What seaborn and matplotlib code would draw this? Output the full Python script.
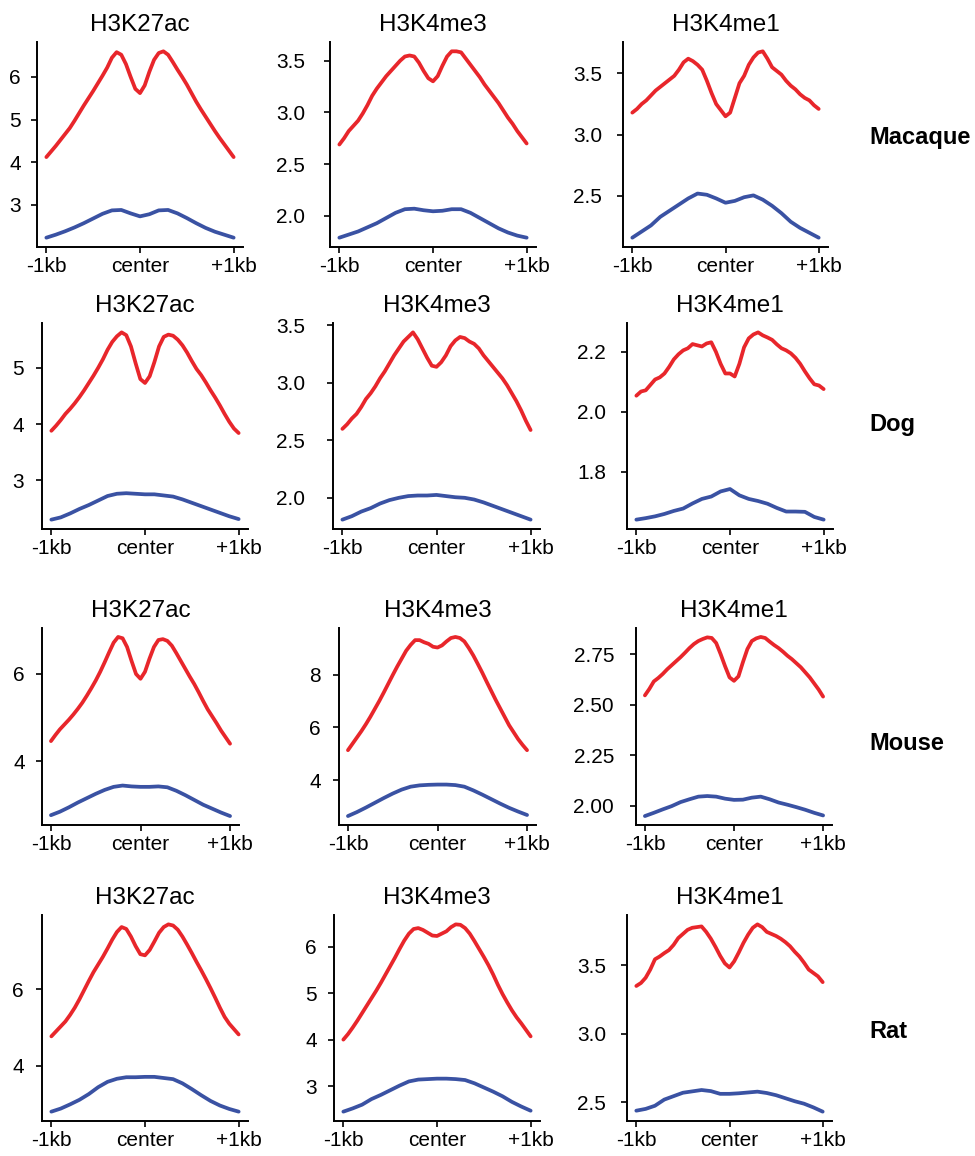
import numpy as np
import matplotlib
matplotlib.use("Agg")
import matplotlib.pyplot as plt
import seaborn as sns

# ---------------------------------------------------------------------------
# Profile values (signal vs. distance to peak summit, -1 kb .. +1 kb)
# "hi" = red profile, "lo" = blue profile
# ---------------------------------------------------------------------------
species = ["Macaque", "Dog", "Mouse", "Rat"]
marks = ["H3K27ac", "H3K4me3", "H3K4me1"]
xtick_labels = ["-1kb", "center", "+1kb"]

mac_k27ac_hi = [4.12, 4.25, 4.38, 4.52, 4.66, 4.80, 4.97, 5.15, 5.33, 5.50, 5.67, 5.85, 6.03, 6.22,
                6.45, 6.58, 6.52, 6.30, 6.00, 5.72, 5.62, 5.80, 6.12, 6.40, 6.56, 6.60, 6.52, 6.35,
                6.17, 6.00, 5.82, 5.62, 5.42, 5.24, 5.07, 4.90, 4.73, 4.57, 4.42, 4.27, 4.12]
mac_k27ac_lo = [2.23, 2.30, 2.38, 2.47, 2.57, 2.68, 2.79, 2.87, 2.88, 2.80, 2.73, 2.78, 2.87, 2.88,
                2.80, 2.69, 2.57, 2.46, 2.37, 2.30, 2.23]
mac_k4me3_hi = [2.69, 2.75, 2.82, 2.87, 2.92, 2.99, 3.07, 3.16, 3.23, 3.29, 3.35, 3.40, 3.45, 3.50,
                3.54, 3.55, 3.54, 3.48, 3.40, 3.33, 3.30, 3.35, 3.45, 3.54, 3.59, 3.59, 3.58, 3.52,
                3.46, 3.40, 3.34, 3.27, 3.21, 3.15, 3.09, 3.02, 2.95, 2.89, 2.82, 2.76, 2.70]
mac_k4me3_lo = [1.79, 1.82, 1.85, 1.89, 1.93, 1.98, 2.03, 2.065, 2.07, 2.055, 2.045, 2.05, 2.065,
                2.065, 2.03, 1.98, 1.93, 1.88, 1.84, 1.81, 1.79]
mac_k4me1_hi = [3.18, 3.21, 3.25, 3.28, 3.32, 3.36, 3.39, 3.42, 3.45, 3.48, 3.53, 3.59, 3.62, 3.60,
                3.57, 3.53, 3.44, 3.34, 3.25, 3.20, 3.15, 3.18, 3.30, 3.42, 3.48, 3.57, 3.63, 3.67,
                3.68, 3.62, 3.55, 3.52, 3.49, 3.44, 3.40, 3.37, 3.33, 3.30, 3.28, 3.24, 3.21]
mac_k4me1_lo = [2.16, 2.21, 2.26, 2.33, 2.38, 2.43, 2.48, 2.52, 2.51, 2.48, 2.445, 2.46, 2.49,
                2.505, 2.47, 2.42, 2.36, 2.29, 2.24, 2.20, 2.16]

dog_k27ac_hi = [3.88, 3.97, 4.07, 4.18, 4.27, 4.37, 4.48, 4.60, 4.73, 4.86, 5.00, 5.15, 5.32, 5.46,
                5.56, 5.63, 5.58, 5.38, 5.08, 4.80, 4.73, 4.85, 5.10, 5.38, 5.55, 5.59, 5.57, 5.50,
                5.40, 5.27, 5.12, 4.98, 4.87, 4.74, 4.60, 4.47, 4.33, 4.18, 4.04, 3.92, 3.84]
dog_k27ac_lo = [2.30, 2.34, 2.41, 2.49, 2.56, 2.64, 2.72, 2.76, 2.77, 2.76, 2.75, 2.75, 2.73, 2.71,
                2.66, 2.60, 2.54, 2.48, 2.42, 2.36, 2.31]
dog_k4me3_hi = [2.60, 2.64, 2.69, 2.73, 2.79, 2.86, 2.91, 2.97, 3.04, 3.10, 3.17, 3.24, 3.30, 3.36,
                3.40, 3.44, 3.38, 3.30, 3.22, 3.15, 3.14, 3.18, 3.24, 3.32, 3.37, 3.40, 3.39, 3.36,
                3.34, 3.30, 3.24, 3.19, 3.14, 3.09, 3.04, 2.98, 2.91, 2.84, 2.76, 2.67, 2.59]
dog_k4me3_lo = [1.81, 1.84, 1.88, 1.91, 1.95, 1.98, 2.00, 2.015, 2.02, 2.02, 2.025, 2.015, 2.005,
                2.00, 1.985, 1.96, 1.93, 1.90, 1.87, 1.84, 1.81]
dog_k4me1_hi = [2.054, 2.068, 2.072, 2.090, 2.108, 2.115, 2.128, 2.150, 2.175, 2.192, 2.205, 2.212,
                2.226, 2.222, 2.218, 2.228, 2.232, 2.200, 2.160, 2.128, 2.128, 2.118, 2.160, 2.215,
                2.245, 2.258, 2.265, 2.255, 2.248, 2.240, 2.225, 2.212, 2.205, 2.195, 2.180, 2.160,
                2.135, 2.112, 2.092, 2.088, 2.076]
dog_k4me1_lo = [1.641, 1.646, 1.652, 1.660, 1.670, 1.678, 1.695, 1.710, 1.718, 1.735, 1.743, 1.722,
                1.710, 1.703, 1.694, 1.680, 1.668, 1.668, 1.667, 1.650, 1.641]

mou_k27ac_hi = [4.46, 4.60, 4.73, 4.84, 4.95, 5.07, 5.20, 5.34, 5.50, 5.67, 5.85, 6.05, 6.27, 6.50,
                6.72, 6.85, 6.82, 6.62, 6.30, 6.00, 5.89, 6.05, 6.35, 6.62, 6.78, 6.80, 6.76, 6.65,
                6.48, 6.30, 6.12, 5.94, 5.77, 5.58, 5.38, 5.19, 5.03, 4.87, 4.70, 4.55, 4.40]
mou_k27ac_lo = [2.76, 2.84, 2.94, 3.05, 3.15, 3.25, 3.34, 3.41, 3.44, 3.42, 3.41, 3.41, 3.42, 3.40,
                3.32, 3.22, 3.11, 3.00, 2.91, 2.82, 2.74]
mou_k4me3_hi = [5.14, 5.38, 5.62, 5.86, 6.12, 6.40, 6.70, 7.00, 7.32, 7.65, 7.98, 8.30, 8.60, 8.90,
                9.12, 9.30, 9.30, 9.22, 9.16, 9.05, 9.02, 9.10, 9.25, 9.38, 9.42, 9.38, 9.25, 9.00,
                8.72, 8.40, 8.07, 7.72, 7.38, 7.04, 6.72, 6.40, 6.08, 5.82, 5.56, 5.34, 5.14]
mou_k4me3_lo = [2.65, 2.80, 2.97, 3.15, 3.33, 3.50, 3.65, 3.76, 3.81, 3.83, 3.84, 3.84, 3.82, 3.76,
                3.62, 3.46, 3.29, 3.12, 2.96, 2.82, 2.69]
mou_k4me1_hi = [2.546, 2.578, 2.615, 2.632, 2.652, 2.675, 2.695, 2.715, 2.735, 2.757, 2.780, 2.800,
                2.815, 2.825, 2.833, 2.830, 2.805, 2.750, 2.690, 2.635, 2.618, 2.640, 2.710, 2.775,
                2.815, 2.828, 2.835, 2.830, 2.812, 2.795, 2.780, 2.762, 2.742, 2.725, 2.705, 2.685,
                2.660, 2.635, 2.605, 2.575, 2.540]
mou_k4me1_lo = [1.949, 1.965, 1.982, 1.998, 2.018, 2.032, 2.045, 2.048, 2.045, 2.035, 2.029, 2.030,
                2.040, 2.045, 2.032, 2.016, 2.005, 1.993, 1.980, 1.965, 1.952]

rat_k27ac_hi = [4.77, 4.90, 5.03, 5.16, 5.33, 5.52, 5.74, 5.98, 6.22, 6.45, 6.65, 6.85, 7.07, 7.30,
                7.50, 7.63, 7.58, 7.38, 7.13, 6.92, 6.89, 7.03, 7.25, 7.48, 7.63, 7.70, 7.67, 7.56,
                7.38, 7.17, 6.95, 6.72, 6.50, 6.27, 6.03, 5.78, 5.52, 5.28, 5.10, 4.96, 4.82]
rat_k27ac_lo = [2.80, 2.88, 2.99, 3.11, 3.26, 3.44, 3.58, 3.66, 3.70, 3.70, 3.71, 3.71, 3.68, 3.65,
                3.54, 3.39, 3.23, 3.08, 2.96, 2.87, 2.80]
rat_k4me3_hi = [4.00, 4.12, 4.26, 4.41, 4.57, 4.73, 4.89, 5.05, 5.22, 5.40, 5.58, 5.76, 5.95, 6.13,
                6.28, 6.38, 6.40, 6.36, 6.30, 6.24, 6.23, 6.28, 6.33, 6.42, 6.48, 6.47, 6.40, 6.28,
                6.12, 5.95, 5.78, 5.60, 5.40, 5.18, 4.98, 4.80, 4.63, 4.48, 4.35, 4.21, 4.07]
rat_k4me3_lo = [2.45, 2.52, 2.60, 2.72, 2.81, 2.91, 3.01, 3.10, 3.14, 3.15, 3.16, 3.16, 3.15, 3.13,
                3.06, 2.97, 2.88, 2.78, 2.66, 2.56, 2.47]
rat_k4me1_hi = [3.350, 3.372, 3.410, 3.470, 3.545, 3.565, 3.590, 3.612, 3.650, 3.700, 3.730, 3.760,
                3.775, 3.780, 3.785, 3.745, 3.695, 3.635, 3.570, 3.515, 3.485, 3.530, 3.595, 3.665,
                3.725, 3.775, 3.800, 3.780, 3.745, 3.730, 3.715, 3.695, 3.670, 3.640, 3.600, 3.565,
                3.520, 3.470, 3.445, 3.420, 3.378]
rat_k4me1_lo = [2.439, 2.452, 2.475, 2.520, 2.545, 2.570, 2.580, 2.590, 2.582, 2.562, 2.562, 2.566,
                2.572, 2.578, 2.568, 2.552, 2.530, 2.508, 2.490, 2.463, 2.432]

# y tick values and their printed labels, one entry per panel (row-major)
ytick_values = [
    [3, 4, 5, 6], [2.0, 2.5, 3.0, 3.5], [2.5, 3.0, 3.5],
    [3, 4, 5], [2.0, 2.5, 3.0, 3.5], [1.8, 2.0, 2.2],
    [4, 6], [4, 6, 8], [2.00, 2.25, 2.50, 2.75],
    [4, 6], [3, 4, 5, 6], [2.5, 3.0, 3.5],
]
ytick_labels = [
    ["3", "4", "5", "6"], ["2.0", "2.5", "3.0", "3.5"], ["2.5", "3.0", "3.5"],
    ["3", "4", "5"], ["2.0", "2.5", "3.0", "3.5"], ["1.8", "2.0", "2.2"],
    ["4", "6"], ["4", "6", "8"], ["2.00", "2.25", "2.50", "2.75"],
    ["4", "6"], ["3", "4", "5", "6"], ["2.5", "3.0", "3.5"],
]

profiles = [
    [(mac_k27ac_hi, mac_k27ac_lo), (mac_k4me3_hi, mac_k4me3_lo), (mac_k4me1_hi, mac_k4me1_lo)],
    [(dog_k27ac_hi, dog_k27ac_lo), (dog_k4me3_hi, dog_k4me3_lo), (dog_k4me1_hi, dog_k4me1_lo)],
    [(mou_k27ac_hi, mou_k27ac_lo), (mou_k4me3_hi, mou_k4me3_lo), (mou_k4me1_hi, mou_k4me1_lo)],
    [(rat_k27ac_hi, rat_k27ac_lo), (rat_k4me3_hi, rat_k4me3_lo), (rat_k4me1_hi, rat_k4me1_lo)],
]

# ---------------------------------------------------------------------------
# Styling / layout
# ---------------------------------------------------------------------------
sns.set_style("ticks")
plt.rcParams["font.family"] = ["Liberation Sans", "DejaVu Sans"]
plt.rcParams["text.color"] = "black"
plt.rcParams["axes.titlecolor"] = "black"

RED = "#E8262B"
BLUE = "#3A52A3"

W, H = 975, 1156
fig = plt.figure(figsize=(W / 100, H / 100), dpi=100)

# axes boxes in pixels: (left, right) per column for each row, and (top, bottom) per row
col_spans = [
    [(37, 243), (330, 536), (623, 828)],
    [(42, 248), (333, 540), (627, 833)],
    [(42, 239), (339, 536), (636, 832)],
    [(42, 248), (334, 540), (627, 832)],
]
row_spans = [(42, 247), (323, 529), (628, 825), (915, 1121)]
# gap between y tick marks and their labels, in pixels
ylabel_gap = [[10, 19, 15], [12, 22, 15], [11, 12, 16], [12, 11, 15]]
label_y = [138, 425, 743, 1032]

for r, sp in enumerate(species):
    top, bot = row_spans[r]
    for c, mark in enumerate(marks):
        left, right = col_spans[r][c]
        ax = fig.add_axes([left / W, 1 - bot / H, (right - left) / W, (bot - top) / H])
        hi, lo = profiles[r][c]
        for vals, col in ((hi, RED), (lo, BLUE)):
            xs = np.linspace(-1, 1, len(vals))
            sns.lineplot(x=xs, y=np.asarray(vals), ax=ax, color=col, linewidth=2.7,
                         solid_capstyle="round")
        ax.set_xticks([-1, 0, 1])
        ax.set_xticklabels(xtick_labels)
        k = r * 3 + c
        ax.set_yticks(ytick_values[k])
        ax.set_yticklabels(ytick_labels[k])
        ax.tick_params(axis="both", labelsize=15, length=4.3, width=1.2, colors="black")
        ax.tick_params(axis="x", pad=3)
        ax.tick_params(axis="y", pad=ylabel_gap[r][c] * 0.72)
        ax.set_title(mark, fontsize=17.5, pad=8, color="black")
        for s in ("left", "bottom"):
            ax.spines[s].set_linewidth(1.4)
            ax.spines[s].set_color("black")
        sns.despine(ax=ax)
    fig.text(869 / W, 1 - label_y[r] / H, sp, fontsize=17, fontweight="bold",
             ha="left", va="center", color="black")

fig.savefig("out.png", dpi=100)
